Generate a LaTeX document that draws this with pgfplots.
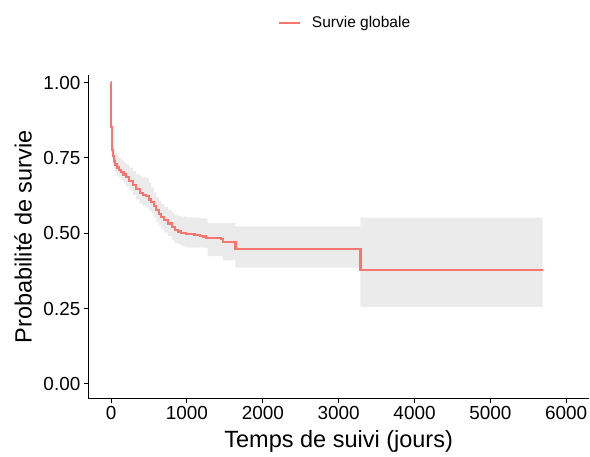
\documentclass[border=0pt]{standalone}
\usepackage{fontspec}
\setmainfont{Liberation Sans}
\usepackage{pgfplots}
\pgfplotsset{compat=1.18}
\usepackage{pgfplotstable}
\usetikzlibrary{pgfplots.fillbetween}
\definecolor{survred}{HTML}{F8766D}
\definecolor{bandgray}{HTML}{EBEBEB}

\pgfplotstableread{
t s lo up
0 1.000 1.000 1.000
2 0.852 0.815 0.888
8 0.800 0.770 0.835
14 0.775 0.748 0.810
25 0.755 0.728 0.790
40 0.740 0.714 0.777
55 0.728 0.703 0.766
75 0.718 0.694 0.758
100 0.710 0.686 0.750
135 0.703 0.676 0.742
165 0.695 0.667 0.735
200 0.686 0.656 0.728
240 0.673 0.642 0.718
290 0.659 0.627 0.706
330 0.646 0.612 0.697
377 0.633 0.598 0.690
420 0.628 0.592 0.686
465 0.623 0.586 0.683
500 0.612 0.574 0.668
530 0.604 0.566 0.652
565 0.590 0.552 0.635
597 0.576 0.538 0.620
630 0.565 0.527 0.608
662 0.554 0.515 0.598
700 0.543 0.503 0.588
750 0.532 0.491 0.578
800 0.520 0.478 0.568
838 0.510 0.468 0.560
880 0.506 0.463 0.557
926 0.502 0.458 0.555
992 0.497 0.452 0.553
1100 0.494 0.452 0.551
1168 0.491 0.452 0.549
1211 0.489 0.452 0.549
1250 0.485 0.450 0.549
1274 0.485 0.424 0.534
1453 0.482 0.424 0.534
1475 0.471 0.410 0.534
1640 0.449 0.386 0.523
3288 0.377 0.256 0.552
5690 0.377 0.256 0.552
}\km

\begin{document}
\begin{tikzpicture}
\begin{axis}[name=ax, scale only axis, width=500.7bp, height=323.7bp,
  xmin=-300, xmax=6300, ymin=-0.049, ymax=1.025,
  axis x line=bottom, axis y line=left,
  axis line style={-, black, line width=0.9bp},
  xtick={0,1000,2000,3000,4000,5000,6000},
  ytick={0,0.25,0.5,0.75,1},
  tick align=outside, major tick length=4.5bp,
  tick style={black, line width=0.9bp},
  minor tick num=0,
  tick label style={font=\fontsize{18.9bp}{22bp}\selectfont, black, /pgf/number format/assume math mode=true},
  yticklabel style={/pgf/number format/fixed, /pgf/number format/fixed zerofill, /pgf/number format/precision=2},
  xticklabel style={/pgf/number format/1000 sep={}},
  scaled ticks=false,
  xlabel={Temps de suivi (jours)},
  ylabel={Probabilité de survie},
  label style={font=\fontsize{23.5bp}{28bp}\selectfont},
  xlabel style={anchor=base, at={(axis description cs:0.5,-0.1523)}},
  ylabel style={anchor=base, at={(axis description cs:-0.113,0.5)}},
  legend style={at={(rel axis cs:0.378,1.161)}, anchor=west, draw=none, fill=none, inner sep=0pt,
    font=\fontsize{15.5bp}{18bp}\selectfont},
  legend cell align=left,
  legend image code/.code={\draw[#1] (0bp,0bp) -- (21bp,0bp); \path (30bp,0bp);},
]
\addplot[name path=up, draw=none, const plot, forget plot] table[x=t,y=up]{\km};
\addplot[name path=lo, draw=none, const plot, forget plot] table[x=t,y=lo]{\km};
\addplot[bandgray, forget plot] fill between[of=up and lo];
\addplot[survred, line width=2.2bp, const plot] table[x=t,y=s]{\km};
\addlegendentry{Survie globale}
\end{axis}
\pgfresetboundingbox
\path[use as bounding box] ([shift={(-88.3bp,-58.3bp)}]ax.south west) rectangle ([shift={(501.7bp,398.7bp)}]ax.south west);
\end{tikzpicture}
\end{document}
